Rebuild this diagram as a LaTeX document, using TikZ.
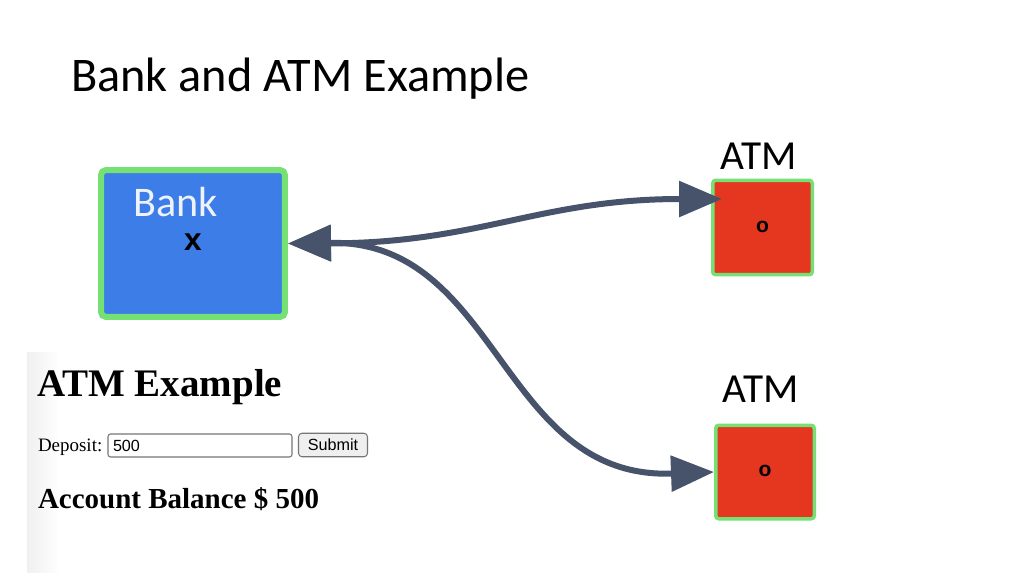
\documentclass[tikz,border=0pt]{standalone}
\usepackage{fontspec}
\setmainfont{Liberation Serif}
\newfontfamily\calibri{Carlito}
\newfontfamily\arial{Liberation Sans}
\usetikzlibrary{arrows.meta,backgrounds}
\definecolor{slate}{HTML}{46536A}
\definecolor{bankblue}{HTML}{3C7DE8}
\definecolor{boxgreen}{HTML}{75E073}
\definecolor{atmred}{HTML}{E5361F}
\definecolor{cornerbrown}{HTML}{A0645A}
\definecolor{banktext}{HTML}{EEF2FA}
\definecolor{formgray}{HTML}{767676}
\definecolor{btnfill}{HTML}{EFEFEF}
\tikzset{
  bankbox/.style={draw=boxgreen, fill=bankblue, line width=0.12cm, rounded corners=0.1cm,
    minimum width=3.68cm, minimum height=2.94cm, inner sep=0pt},
  atmbox/.style={draw=boxgreen, fill=atmred, line width=0.07cm, rounded corners=0.06cm,
    inner sep=0pt},
  conn/.style={draw=slate, line width=0.12cm,
    {Triangle[length=0.86cm,width=0.7cm]}-{Triangle[length=0.86cm,width=0.7cm]}},
  plain/.style={inner sep=0pt, outer sep=0pt},
}
\begin{document}
\begin{tikzpicture}[x=0.02cm,y=-0.02cm]
\useasboundingbox[fill=white] (0,0) rectangle (1020,572);

% screenshot area
\shade[left color=black!6, right color=white] (27,352) rectangle (60,572);

% title
\node[plain, anchor=base west] (title) at (71,91) {\calibri\fontsize{27.5}{33}\selectfont Bank and ATM Example};

% bank
\node[bankbox] (bank) at (193,243.5) {};
\begin{pgfonlayer}{background}
\fill[cornerbrown] (bank.south west) rectangle (bank.north east);
\end{pgfonlayer}
\node[plain, anchor=base, text=banktext] (banklabel) at (175.5,216) {\calibri\fontsize{24}{29}\selectfont Bank};
\node[plain] (bankx) at (193,242.5) {\arial\bfseries\fontsize{18}{21}\selectfont x};

% ATM 1
\node[atmbox, minimum width=1.99cm, minimum height=1.89cm] (atm1) at (762.5,227.5) {};
\begin{pgfonlayer}{background}
\fill[cornerbrown] (atm1.south west) rectangle (atm1.north east);
\end{pgfonlayer}
\node[plain] (atm1o) at (762.5,226.5) {\arial\bfseries\fontsize{12}{14}\selectfont o};
\node[plain, anchor=base] (atm1label) at (758.5,169) {\calibri\fontsize{23.5}{28}\selectfont ATM};

% ATM 2
\node[atmbox, minimum width=1.97cm, minimum height=1.87cm] (atm2) at (765,472) {};
\begin{pgfonlayer}{background}
\fill[cornerbrown] (atm2.south west) rectangle (atm2.north east);
\end{pgfonlayer}
\node[plain] (atm2o) at (765,470.5) {\arial\bfseries\fontsize{12}{14}\selectfont o};
\node[plain, anchor=base] (atm2label) at (760.5,402) {\calibri\fontsize{23.5}{28}\selectfont ATM};

% connectors
\coordinate (t1) at (722,199);
\draw[conn] (bank.east) .. controls (480,243) and (540,199) .. (t1);
\draw[conn] (bank.east) .. controls (500,240) and (500,480) .. (atm2.west);

% web form screenshot
\node[plain, anchor=base west] (formtitle) at (37,396) {\bfseries\fontsize{22.2}{26}\selectfont ATM Example};
\node[plain, anchor=base west] (deplabel) at (38,451) {\fontsize{10.8}{13}\selectfont Deposit:};
\draw[formgray, line width=0.6pt, rounded corners=1.5pt] (108,434) rectangle (292,457);
\node[plain, anchor=base west] (depvalue) at (113,451) {\arial\fontsize{9.2}{11}\selectfont 500};
\node[draw=formgray, fill=btnfill, line width=0.6pt, rounded corners=2pt,
  minimum width=1.38cm, minimum height=0.47cm, inner sep=0pt] (submit) at (333,445)
  {\arial\fontsize{9.2}{11}\selectfont Submit};
\node[plain, anchor=base west] (balance) at (38,508) {\bfseries\fontsize{16.5}{20}\selectfont Account Balance \$ 500};
\end{tikzpicture}
\end{document}
